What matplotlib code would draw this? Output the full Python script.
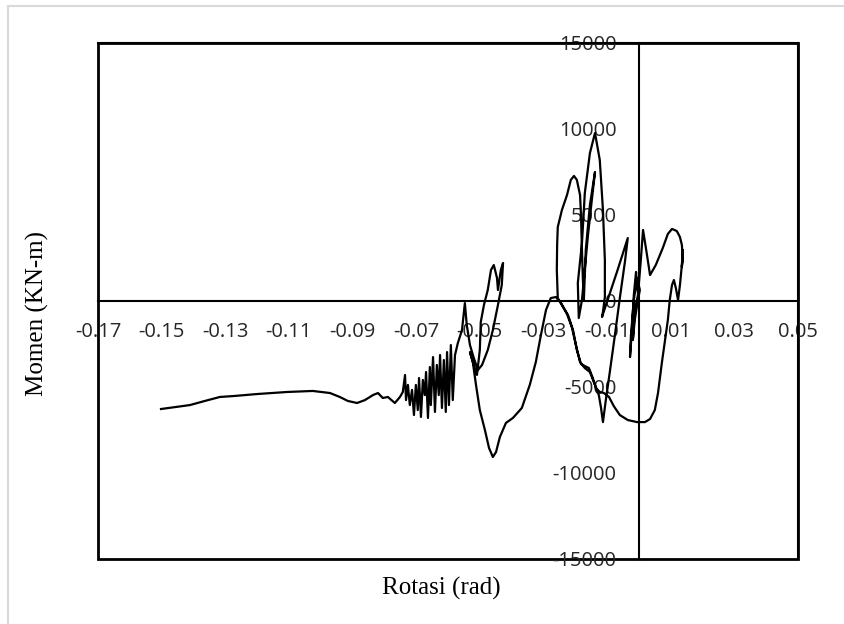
import numpy as np
import matplotlib
matplotlib.use('Agg')
import matplotlib.pyplot as plt
from matplotlib.lines import Line2D
from matplotlib.patches import Rectangle

# rotasi (rad) dan momen (KN-m), per bagian kurva
rot_awal = [0.0, -0.0006, -0.0009, -0.0016, -0.0022, -0.0028, -0.0025, -0.0016, -0.0006,
            0.0003, -0.0003, -0.0013, -0.0019, -0.0013, -0.0003]
mom_awal = [0, 930, 1690, 350, -1690, -3260, -1980, 60, 1340,
            640, 60, -1100, -2270, -520, 350]

rot_kanan = [0.0006, 0.0013, 0.0022, 0.0035, 0.0053, 0.0075, 0.0091, 0.0104, 0.0119, 0.0129,
             0.0135, 0.0138, 0.0135, 0.0138, 0.0135, 0.0129, 0.0123, 0.0116, 0.0110, 0.0104,
             0.0097, 0.0091, 0.0082, 0.0072, 0.0060, 0.0050, 0.0035, 0.0019, -0.0006, -0.0035,
             -0.0060, -0.0079, -0.0094, -0.0110, -0.0123]
mom_kanan = [2380, 4130, 3080, 1510, 2090, 3080, 3900, 4190, 4070, 3720,
             3260, 2500, 1980, 2970, 2090, 930, 60, 760, 1220, 930,
             60, -1100, -2270, -3610, -5350, -6340, -6860, -7040, -7040, -6920,
             -6630, -6110, -5580, -5350, -5290]

rot_puncak = [-0.0135, -0.0145, -0.0157, -0.0170, -0.0182, -0.0195, -0.0207, -0.0223, -0.0242,
              -0.0255, -0.0258, -0.0257, -0.0255, -0.0242, -0.0226, -0.0214, -0.0204, -0.0195,
              -0.0185, -0.0182, -0.0179, -0.0176, -0.0173]
mom_puncak = [-5060, -4480, -3900, -3780, -3660, -2850, -1690, -810, -230,
              170, 1800, 3260, 4300, 5290, 6160, 7040, 7270, 7040,
              6160, 5000, 2970, 1220, 60]

rot_spike = [-0.0167, -0.0154, -0.0138, -0.0148, -0.0160, -0.0173, -0.0179, -0.0189,
             -0.0192, -0.0179, -0.0170, -0.0154, -0.0138, -0.0123, -0.0113, -0.0107,
             -0.0107, -0.0113, -0.0116]
mom_spike = [2970, 5580, 7500, 5870, 3840, 1220, 60, -990,
             1050, 3370, 6280, 8600, 9770, 8200, 5290, 2380,
             230, -640, -930]

rot_v = [-0.0091, -0.0066, -0.0035, -0.0044, -0.0060, -0.0075, -0.0091, -0.0104, -0.0113,
         -0.0119, -0.0126]
mom_v = [470, 1860, 3660, 2270, 170, -1920, -4070, -5760, -7040,
         -6220, -5470]

rot_turun = [-0.0138, -0.0154, -0.0170, -0.0185, -0.0198, -0.0211, -0.0226, -0.0245, -0.0261,
             -0.0277, -0.0292, -0.0308, -0.0324, -0.0343, -0.0368, -0.0396, -0.0418, -0.0437,
             -0.0449, -0.0459, -0.0471, -0.0484, -0.0500, -0.0512, -0.0522, -0.0531]
mom_turun = [-4880, -4130, -3900, -3550, -2560, -1510, -760, -120, 230,
             170, -520, -1980, -3550, -4880, -6220, -6800, -7090, -7910,
             -8780, -9070, -8550, -7500, -6340, -4880, -3550, -2970]

rot_loop = [-0.0519, -0.0509, -0.0500, -0.0497, -0.0487, -0.0475, -0.0465, -0.0456, -0.0446,
            -0.0443, -0.0434, -0.0427, -0.0431, -0.0443, -0.0459, -0.0475, -0.0493, -0.0506,
            -0.0519, -0.0531, -0.0541, -0.0547, -0.0556, -0.0569]
mom_loop = [-3720, -4300, -2850, -1220, -230, 640, 1800, 2090, 1340,
            640, 1800, 2210, 930, -230, -1690, -2850, -3720, -4010,
            -3310, -2560, -1400, -120, -1690, -2440]

rot_acak = [-0.0578, -0.0585, -0.0591, -0.0597, -0.0603, -0.0607, -0.0613, -0.0619, -0.0625,
            -0.0629, -0.0635, -0.0641, -0.0647, -0.0654, -0.0657, -0.0663, -0.0669, -0.0673,
            -0.0679, -0.0685, -0.0691, -0.0695, -0.0701, -0.0707, -0.0713, -0.0720, -0.0726,
            -0.0732, -0.0735, -0.0742, -0.0751]
mom_acak = [-3140, -5760, -2560, -6050, -2970, -6450, -3430, -6220, -3140,
            -5470, -3720, -6450, -3260, -6050, -3840, -6800, -4130, -5470,
            -4590, -6740, -4480, -6340, -4880, -6630, -5170, -6050, -4880,
            -5760, -4300, -5290, -5580]

rot_ekor = [-0.0767, -0.0789, -0.0805, -0.0820, -0.0836, -0.0861, -0.0886, -0.0915, -0.0940,
            -0.0971, -0.1025, -0.1106, -0.1201, -0.1270, -0.1317, -0.1364, -0.1411, -0.1502]
mom_ekor = [-5930, -5580, -5640, -5350, -5470, -5760, -5930, -5810, -5580,
            -5350, -5230, -5290, -5410, -5520, -5580, -5810, -6050, -6280]

rotasi = np.concatenate([rot_awal, rot_kanan, rot_puncak, rot_spike, rot_v,
                         rot_turun, rot_loop, rot_acak, rot_ekor])
momen = np.concatenate([mom_awal, mom_kanan, mom_puncak, mom_spike, mom_v,
                        mom_turun, mom_loop, mom_acak, mom_ekor])

x_ticks = np.round(np.arange(-0.17, 0.0501, 0.02), 2)
y_ticks = np.arange(-15000, 15001, 5000)

fig = plt.figure(figsize=(8.44, 6.24), dpi=100)
ax = fig.add_axes([98 / 844, 65 / 624, 700 / 844, 516 / 624])

ax.plot(rotasi, momen, color='black', lw=1.6, solid_joinstyle='round')

ax.set_xlim(-0.17, 0.05)
ax.set_ylim(-15000, 15000)
ax.set_xticks(x_ticks)
ax.set_xticklabels(['%g' % t for t in x_ticks])
ax.set_yticks(y_ticks)
ax.set_yticklabels([str(t) for t in y_ticks])

for s in ['left', 'bottom']:
    ax.spines[s].set_position(('data', 0))
for s in ax.spines.values():
    s.set_linewidth(1.5)
ax.add_patch(Rectangle((0, 0), 1, 1, transform=ax.transAxes, fill=False,
                       lw=2, ec='black', clip_on=False))

ax.tick_params(length=0, labelsize=14.5, labelcolor='#262626')
ax.tick_params(axis='x', pad=15)
ax.tick_params(axis='y', pad=16)
for lab in ax.get_xticklabels() + ax.get_yticklabels():
    lab.set_family('Open Sans')

fig.text(441 / 844, 1 - 588 / 624, 'Rotasi (rad)', ha='center', va='center',
         family='Liberation Serif', fontsize=18)
fig.text(37 / 844, 1 - 314 / 624, 'Momen (KN-m)', ha='center', va='center',
         rotation=90, family='Liberation Serif', fontsize=18)

# bingkai abu-abu area grafik
fig.add_artist(Line2D([8 / 844, 1], [1 - 6 / 624, 1 - 6 / 624], color='#d9d9d9', lw=1.5))
fig.add_artist(Line2D([8 / 844, 8 / 844], [0, 1 - 6 / 624], color='#d9d9d9', lw=1.5))

fig.savefig('out.png', dpi=100)
